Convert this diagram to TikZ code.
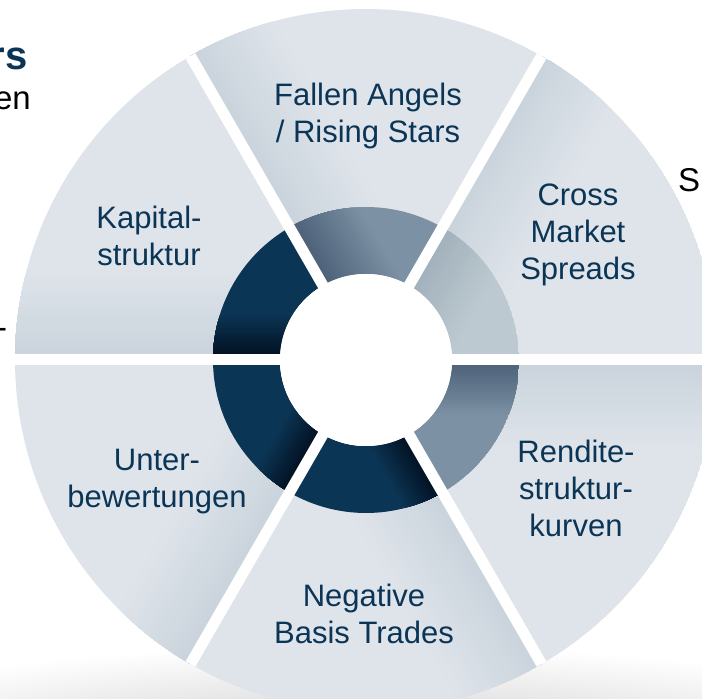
\documentclass[tikz,border=0pt]{standalone}
\usepackage{fontspec}
\setmainfont{Liberation Sans}
\usepackage{xcolor}

\definecolor{navy}{HTML}{0B3554}
\definecolor{navydark}{HTML}{020E1E}
\definecolor{slate}{HTML}{7D91A4}
\definecolor{slatedark}{HTML}{4A5E76}
\definecolor{steel}{HTML}{BDC9D0}
\definecolor{steeldark}{HTML}{A0B0BB}
\definecolor{pale}{HTML}{DFE4EA}
\definecolor{paledark}{HTML}{C9D3DC}
\definecolor{labelblue}{HTML}{0B3556}

% one piece of the wheel: start angle, inner radius, outer radius,
% colour, colour along its leading edge, width of that edge shade
\newcommand{\wheelpart}[6]{%
  \begin{scope}
    \clip (#1:#2) arc[start angle=#1, end angle=#1+60, radius=#2]
      -- ({#1+60}:#3) arc[start angle=#1+60, end angle=#1, radius=#3] -- cycle;
    \fill[#4] (0,0) circle[radius=#3];
    % strips parallel to the edge, darker towards it
    \begin{scope}[rotate=#1+60]
      \foreach \k in {1,...,24} {
        \pgfmathsetmacro\depth{#6*(25-\k)/24}
        \pgfmathtruncatemacro\mix{100*\k/24}
        \fill[#5!\mix!#4] (0,-\depth) rectangle (#3,0);
      }
    \end{scope}
  \end{scope}}

\begin{document}
\begin{tikzpicture}[
    x=1pt, y=1pt,
    label/.style={align=center, text=labelblue, font=\fontsize{31}{37}\selectfont},
    fragment/.style={inner sep=0pt, font=\fontsize{33}{38}\selectfont},
    gap/.style={white, line width=11pt}
]
\useasboundingbox (-366,-339) rectangle (336,360);
\clip (-366,-339) rectangle (336,360);

% soft shadow under the wheel
\shade[inner color=black!20, outer color=white] (0,-385) ellipse[x radius=600, y radius=100];

% outer pieces, then the dark ring
\foreach \a in {0,60,...,300}
  \wheelpart{\a}{150}{351}{pale}{paledark}{90};
\foreach \a/\col/\edge/\w in {0/steel/steeldark/70, 60/slate/slatedark/70,
    120/navy/navydark/45, 180/navy/navydark/40, 240/navy/navydark/40, 300/slate/slatedark/55}
  \wheelpart{\a}{86}{153}{\col}{\edge}{\w};

\node[circle, fill=white, minimum size=172pt, inner sep=0pt] (hub) at (0,0) {};
\foreach \a in {0,60,...,300}
  \draw[gap] (hub.center) -- (\a:351);
\node[circle, fill=white, minimum size=172pt, inner sep=0pt] at (hub) {};

\node[label] (fallen) at (2,244) {Fallen Angels\\/ Rising Stars};
\node[label] (cross) at (212,125) {Cross\\Market\\Spreads};
\node[label] (kapital) at (-217,124) {Kapital-\\struktur};
\node[label] (unter) at (-209,-122) {Unter-\\bewertungen};
\node[label] (negative) at (-2,-254) {Negative\\Basis Trades};
\node[label] (rendite) at (210,-128) {Rendite-\\struktur-\\kurven};

% text running in from beside the wheel
\node[fragment, anchor=base east, text=navy, font=\fontsize{40}{44}\selectfont\bfseries] (titletail) at (-338,290) {rs};
\node[fragment, anchor=base east] (linetail) at (-335,250) {en};
\node[fragment, anchor=base west] (dash) at (-370,21) {-};
\node[fragment, anchor=base west] (sidetext) at (312,168) {S};
\end{tikzpicture}
\end{document}
